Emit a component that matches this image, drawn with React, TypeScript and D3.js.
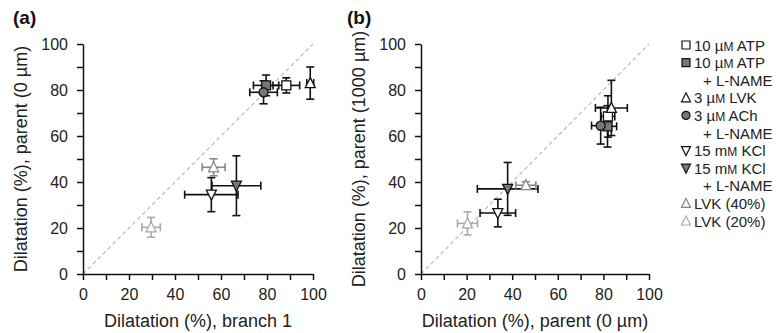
import * as d3 from 'd3';
import React, { useEffect, useRef } from 'react';

// series order matches the legend
const seriesNames = ['10 µM ATP', '10 µM ATP + L-NAME', '3 µM LVK', '3 µM ACh + L-NAME', '15 mM KCl', '15 mM KCl + L-NAME', 'LVK (40%)', 'LVK (20%)'];

// panel (a): branch 1 (x) vs parent 0 µm (y)
const aX = [88.4, 79.6, 98.8, 78.5, 55.8, 66.7, 56.8, 29.6];
const aY = [82, 82, 83, 79, 34.5, 38.4, 46.4, 20.3];
const aXErr = [5.8, 5.5, 1.5, 6, 11.6, 10.6, 5, 4];
const aYErr = [3.3, 4.5, 7, 5, 7.4, 13, 3.7, 4.3];

// panel (b): parent 0 µm (x) vs parent 1000 µm (y)
const bX = [82, 81.8, 83.5, 78.8, 33.7, 38, 46, 20.4];
const bY = [68.5, 64.2, 72.2, 64.5, 26.5, 37, 38.6, 22];
const bXErr = [3, 4, 7, 4, 7.8, 13.3, 4.4, 4.4];
const bYErr = [9, 9, 12, 8, 6, 11.5, 1.5, 5];

const tickValues = d3.range(0, 101, 10);

const shapes = ['square', 'square', 'up', 'circle', 'down', 'down', 'up', 'up'];
const fills = ['#fff', '#777', '#fff', '#777', '#fff', '#777', '#fff', '#fff'];
const strokes = ['#111', '#111', '#111', '#111', '#111', '#111', '#888', '#aaa'];

const FONT = "'Liberation Sans', Arial, sans-serif";

function markerPath(shape: string, s: number) {
  const h = s / 2;
  if (shape === 'square') return `M${-h},${-h}H${h}V${h}H${-h}Z`;
  if (shape === 'up') return `M0,${-h - 1}L${h + 0.5},${h}L${-h - 0.5},${h}Z`;
  if (shape === 'down') return `M0,${h + 1}L${h + 0.5},${-h}L${-h - 0.5},${-h}Z`;
  return d3.symbol(d3.symbolCircle, s * s * 0.8)() as string;
}

interface PanelProps {
  left: number;
  right: number;
  xs: number[];
  ys: number[];
  xe: number[];
  ye: number[];
  label: string;
  labelX: number;
  xTitle: string;
  yTitle: string;
}

const Panel: React.FC<PanelProps> = ({ left, right, xs, ys, xe, ye, label, labelX, xTitle, yTitle }) => {
  const xAxisRef = useRef<SVGGElement | null>(null);
  const yAxisRef = useRef<SVGGElement | null>(null);
  const top = 44, bottom = 274;
  const x = d3.scaleLinear().domain([0, 100]).range([left, right]);
  const y = d3.scaleLinear().domain([0, 100]).range([bottom, top]);

  useEffect(() => {
    const fmt = (d: d3.NumberValue) => (+d % 20 === 0 ? String(d) : '');
    const xa = d3.select(xAxisRef.current!);
    xa.html('').call(d3.axisBottom(x).tickValues(tickValues).tickFormat(fmt).tickSize(6).tickSizeOuter(0).tickPadding(9));
    const ya = d3.select(yAxisRef.current!);
    ya.html('').call(d3.axisLeft(y).tickValues(tickValues).tickFormat(fmt).tickSize(6).tickSizeOuter(0).tickPadding(9));
    [xa, ya].forEach((g) => {
      g.selectAll('path.domain').attr('stroke', '#111').attr('stroke-width', 1.5);
      g.selectAll('line').attr('stroke', '#111').attr('stroke-width', 1.5);
      g.selectAll('text').attr('fill', '#222').style('font-size', '16px').style('font-family', FONT);
    });
  }, [left, right]);

  const cap = 4;
  return (
    <g>
      <text x={labelX} y={24} fontSize={19} fontWeight="bold" fontFamily={FONT} fill="#111">{label}</text>
      <line x1={x(0)} y1={y(0)} x2={x(100)} y2={y(100)} stroke="#bbb" strokeWidth={1.2} strokeDasharray="4,3" />
      {xs.map((_, i) => {
        const cx = x(xs[i]), cy = y(ys[i]);
        const x0 = x(xs[i] - xe[i]), x1 = x(xs[i] + xe[i]);
        const y0 = y(ys[i] - ye[i]), y1 = y(ys[i] + ye[i]);
        return (
          <g key={'e' + i} stroke={strokes[i]} strokeWidth={1.6} fill="none">
            <line x1={x0} y1={cy} x2={x1} y2={cy} />
            <line x1={cx} y1={y0} x2={cx} y2={y1} />
            <line x1={x0} y1={cy - cap} x2={x0} y2={cy + cap} />
            <line x1={x1} y1={cy - cap} x2={x1} y2={cy + cap} />
            <line x1={cx - cap} y1={y0} x2={cx + cap} y2={y0} />
            <line x1={cx - cap} y1={y1} x2={cx + cap} y2={y1} />
          </g>
        );
      })}
      {xs.map((_, i) => (
        <path key={'m' + i} d={markerPath(shapes[i], 9)} transform={`translate(${x(xs[i])},${y(ys[i])})`}
          fill={fills[i]} stroke={strokes[i]} strokeWidth={1.3} />
      ))}
      <g ref={xAxisRef} transform={`translate(0,${bottom})`} />
      <g ref={yAxisRef} transform={`translate(${left},0)`} />
      <text x={(left + right) / 2} y={327} textAnchor="middle" fontSize={18} fontFamily={FONT} fill="#222">{xTitle}</text>
      <text transform={`translate(${left - 56},${(top + bottom) / 2}) rotate(-90)`} textAnchor="middle" fontSize={18} fontFamily={FONT} fill="#222">{yTitle}</text>
    </g>
  );
};

const Unit: React.FC<{ p: string }> = ({ p }) => (
  <>{p}<tspan fontSize="0.8em">M</tspan></>
);

const legendLines: { idx: number | null; parts: React.ReactNode }[] = [
  { idx: 0, parts: <>10 <Unit p="µ" /> ATP</> },
  { idx: 1, parts: <>10 <Unit p="µ" /> ATP</> },
  { idx: null, parts: <>+ L-NAME</> },
  { idx: 2, parts: <>3 <Unit p="µ" /> LVK</> },
  { idx: 3, parts: <>3 <Unit p="µ" /> ACh</> },
  { idx: null, parts: <>+ L-NAME</> },
  { idx: 4, parts: <>15 <Unit p="m" /> KCl</> },
  { idx: 5, parts: <>15 <Unit p="m" /> KCl</> },
  { idx: null, parts: <>+ L-NAME</> },
  { idx: 6, parts: <>LVK (40%)</> },
  { idx: 7, parts: <>LVK (20%)</> },
];

const App: React.FC = () => {
  return (
    <svg width={780} height={333} style={{ position: 'absolute', left: 0, top: 0, background: '#fff' }}>
      <Panel left={83} right={313} xs={aX} ys={aY} xe={aXErr} ye={aYErr} label="(a)" labelX={13}
        xTitle="Dilatation (%), branch 1" yTitle="Dilatation (%), parent (0 µm)" />
      <Panel left={421} right={649} xs={bX} ys={bY} xe={bXErr} ye={bYErr} label="(b)" labelX={347}
        xTitle="Dilatation (%), parent (0 µm)" yTitle="Dilatation (%), parent (1000 µm)" />
      <g fontFamily={FONT} fontSize={15} fill="#222">
        {legendLines.map((l, j) => {
          const ly = 45 + j * 17.6;
          return (
            <g key={j}>
              {l.idx !== null && (
                <path d={markerPath(shapes[l.idx], 8)} transform={`translate(686,${ly})`}
                  fill={fills[l.idx]} stroke={strokes[l.idx]} strokeWidth={1.2} />
              )}
              <text x={l.idx !== null ? 694 : 703} y={ly + 5.5}>{l.parts}</text>
            </g>
          );
        })}
      </g>
      <title>{seriesNames.join(', ')}</title>
    </svg>
  );
};

export default App;
